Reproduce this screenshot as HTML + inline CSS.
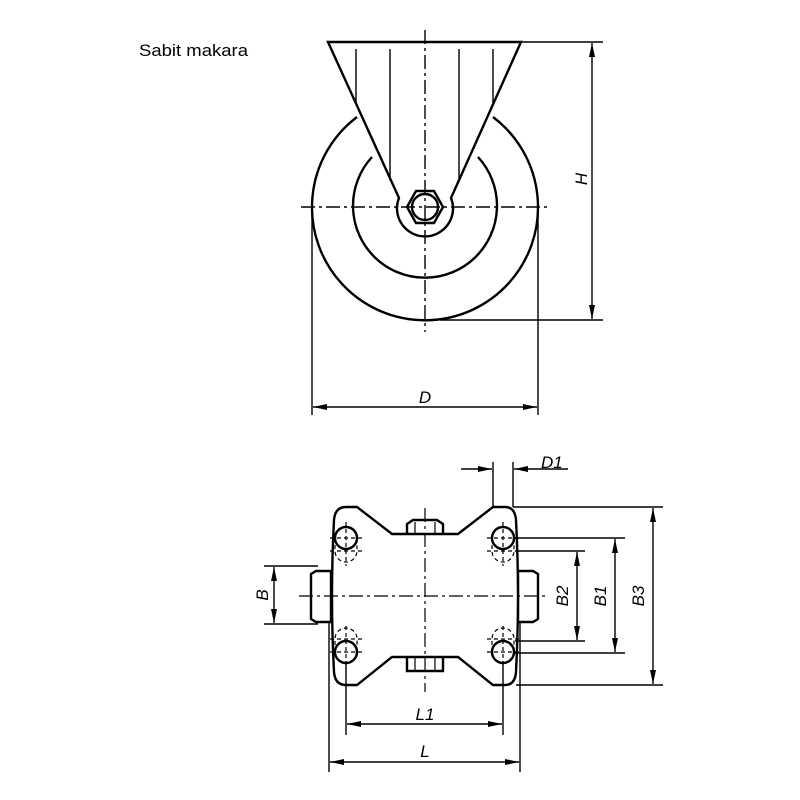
<!DOCTYPE html>
<html><head><meta charset="utf-8"><style>body{margin:0;background:#fff}svg{display:block}</style></head>
<body>
<svg width="800" height="800" viewBox="0 0 800 800" xmlns="http://www.w3.org/2000/svg" font-family="Liberation Sans, sans-serif">
<defs>
<marker id="a" viewBox="0 0 14 6" refX="14" refY="3" markerWidth="14" markerHeight="6" orient="auto" markerUnits="userSpaceOnUse"><path d="M0,0 L14,3 L0,6 Z" fill="#000"/></marker>
</defs>
<rect width="800" height="800" fill="#fff"/>
<text x="139" y="56" font-size="17" textLength="109" lengthAdjust="spacingAndGlyphs">Sabit makara</text>

<g fill="none" stroke="#000" stroke-width="2.4">
<path d="M357,117 A113,113 0 1,0 493,117"/>
<path d="M372,157 A72,72 0 1,0 478,157"/>
<path d="M328,42 L521,42 L451,198 A28,28 0 1,1 399,198 Z" fill="#fff"/>
<path d="M407,207 L416,191 L434,191 L443,207 L434,223 L416,223 Z"/>
<circle cx="425" cy="207" r="13"/>
</g>
<g stroke="#000" stroke-width="1.4" fill="none">
<line x1="356" y1="49" x2="356" y2="103"/><line x1="390" y1="49" x2="390" y2="180"/>
<line x1="459" y1="49" x2="459" y2="180"/><line x1="493" y1="49" x2="493" y2="103"/>
<line x1="301" y1="207" x2="550" y2="207" stroke-dasharray="14,4,3,4"/>
<line x1="425" y1="30" x2="425" y2="332" stroke-dasharray="14,4,3,4"/>
<line x1="521" y1="42" x2="603" y2="42"/><line x1="440" y1="320" x2="603" y2="320"/>
<line x1="592" y1="181" x2="592" y2="43" marker-end="url(#a)"/><line x1="592" y1="181" x2="592" y2="319" marker-end="url(#a)"/>
<line x1="312" y1="212" x2="312" y2="415"/><line x1="538" y1="212" x2="538" y2="415"/>
<line x1="425" y1="407" x2="313" y2="407" marker-end="url(#a)"/><line x1="425" y1="407" x2="537" y2="407" marker-end="url(#a)"/>
</g>
<g font-size="17" font-style="italic">
<text x="425" y="403" text-anchor="middle">D</text>
<text transform="translate(587,179) rotate(-90)" text-anchor="middle">H</text>
</g>

<g fill="none" stroke="#000" stroke-width="2.4">
<path d="M311,574 L316,571 L331,571 L331,622 L316,622 L311,619 Z"/>
<path d="M538,574 L533,571 L518,571 L518,622 L533,622 L538,619 Z"/>
<path d="M346,507 L357,507 L392,534 L458,534 L493,507 L505,507 Q515,507 516,520 Q520,596 516,672 Q515,685 505,685 L493,685 L458,657 L392,657 L357,685 L346,685 Q335,685 334,672 Q330,596 334,520 Q335,507 346,507 Z" fill="#fff"/>
<circle cx="346" cy="538" r="11"/><circle cx="346" cy="652" r="11"/>
<circle cx="503" cy="538" r="11"/><circle cx="503" cy="652" r="11"/>
<path d="M407,534 L407,524 L413,520 L437,520 L443,524 L443,534"/>
<path d="M407,657 L407,671 L443,671 L443,657"/>
</g>
<g stroke="#000" stroke-width="1.2" fill="none">
<line x1="415" y1="522" x2="415" y2="534"/><line x1="435" y1="522" x2="435" y2="534"/>
<line x1="415" y1="657" x2="415" y2="671"/><line x1="435" y1="657" x2="435" y2="671"/>
<g stroke-dasharray="4,3">
<path d="M335,538 L335,551 A11,11 0 0,0 357,551 L357,538"/>
<path d="M492,538 L492,551 A11,11 0 0,0 514,551 L514,538"/>
<path d="M335,652 L335,639 A11,11 0 0,1 357,639 L357,652"/>
<path d="M492,652 L492,639 A11,11 0 0,1 514,639 L514,652"/>
<line x1="346" y1="522" x2="346" y2="566"/><line x1="330" y1="538" x2="362" y2="538"/><line x1="330" y1="551" x2="362" y2="551"/>
<line x1="503" y1="522" x2="503" y2="566"/><line x1="487" y1="538" x2="519" y2="538"/><line x1="487" y1="551" x2="519" y2="551"/>
<line x1="346" y1="626" x2="346" y2="668"/><line x1="330" y1="652" x2="362" y2="652"/><line x1="330" y1="639" x2="362" y2="639"/>
<line x1="503" y1="626" x2="503" y2="668"/><line x1="487" y1="652" x2="519" y2="652"/><line x1="487" y1="639" x2="519" y2="639"/>
</g>
<line x1="299" y1="596" x2="549" y2="596" stroke-dasharray="14,4,3,4"/>
<line x1="425" y1="508" x2="425" y2="692" stroke-dasharray="14,4,3,4"/>
</g>
<g stroke="#000" stroke-width="1.4" fill="none">
<line x1="493" y1="462" x2="493" y2="507"/><line x1="513" y1="462" x2="513" y2="507"/>
<line x1="461" y1="469" x2="492" y2="469" marker-end="url(#a)"/><line x1="568" y1="469" x2="514" y2="469" marker-end="url(#a)"/>
<line x1="513" y1="507" x2="663" y2="507"/><line x1="516" y1="685" x2="663" y2="685"/>
<line x1="653" y1="596" x2="653" y2="508" marker-end="url(#a)"/><line x1="653" y1="596" x2="653" y2="684" marker-end="url(#a)"/>
<line x1="515" y1="538" x2="625" y2="538"/><line x1="515" y1="653" x2="625" y2="653"/>
<line x1="615" y1="596" x2="615" y2="539" marker-end="url(#a)"/><line x1="615" y1="596" x2="615" y2="652" marker-end="url(#a)"/>
<line x1="515" y1="551" x2="585" y2="551"/><line x1="515" y1="641" x2="585" y2="641"/>
<line x1="577" y1="596" x2="577" y2="552" marker-end="url(#a)"/><line x1="577" y1="596" x2="577" y2="640" marker-end="url(#a)"/>
<line x1="264" y1="566" x2="318" y2="566"/><line x1="264" y1="624" x2="318" y2="624"/>
<line x1="274" y1="595" x2="274" y2="567" marker-end="url(#a)"/><line x1="274" y1="595" x2="274" y2="623" marker-end="url(#a)"/>
<line x1="346" y1="664" x2="346" y2="735"/><line x1="503" y1="664" x2="503" y2="735"/>
<line x1="425" y1="724" x2="347" y2="724" marker-end="url(#a)"/><line x1="425" y1="724" x2="502" y2="724" marker-end="url(#a)"/>
<line x1="329" y1="622" x2="329" y2="772"/><line x1="520" y1="622" x2="520" y2="772"/>
<line x1="425" y1="762" x2="330" y2="762" marker-end="url(#a)"/><line x1="425" y1="762" x2="519" y2="762" marker-end="url(#a)"/>
</g>
<g font-size="17" font-style="italic">
<text x="541" y="468">D1</text>
<text x="425" y="720" text-anchor="middle">L1</text>
<text x="425" y="757" text-anchor="middle">L</text>
<text transform="translate(568,596) rotate(-90)" text-anchor="middle">B2</text>
<text transform="translate(606,596) rotate(-90)" text-anchor="middle">B1</text>
<text transform="translate(644,596) rotate(-90)" text-anchor="middle">B3</text>
<text transform="translate(268,595) rotate(-90)" text-anchor="middle">B</text>
</g>
</svg>
</body></html>
